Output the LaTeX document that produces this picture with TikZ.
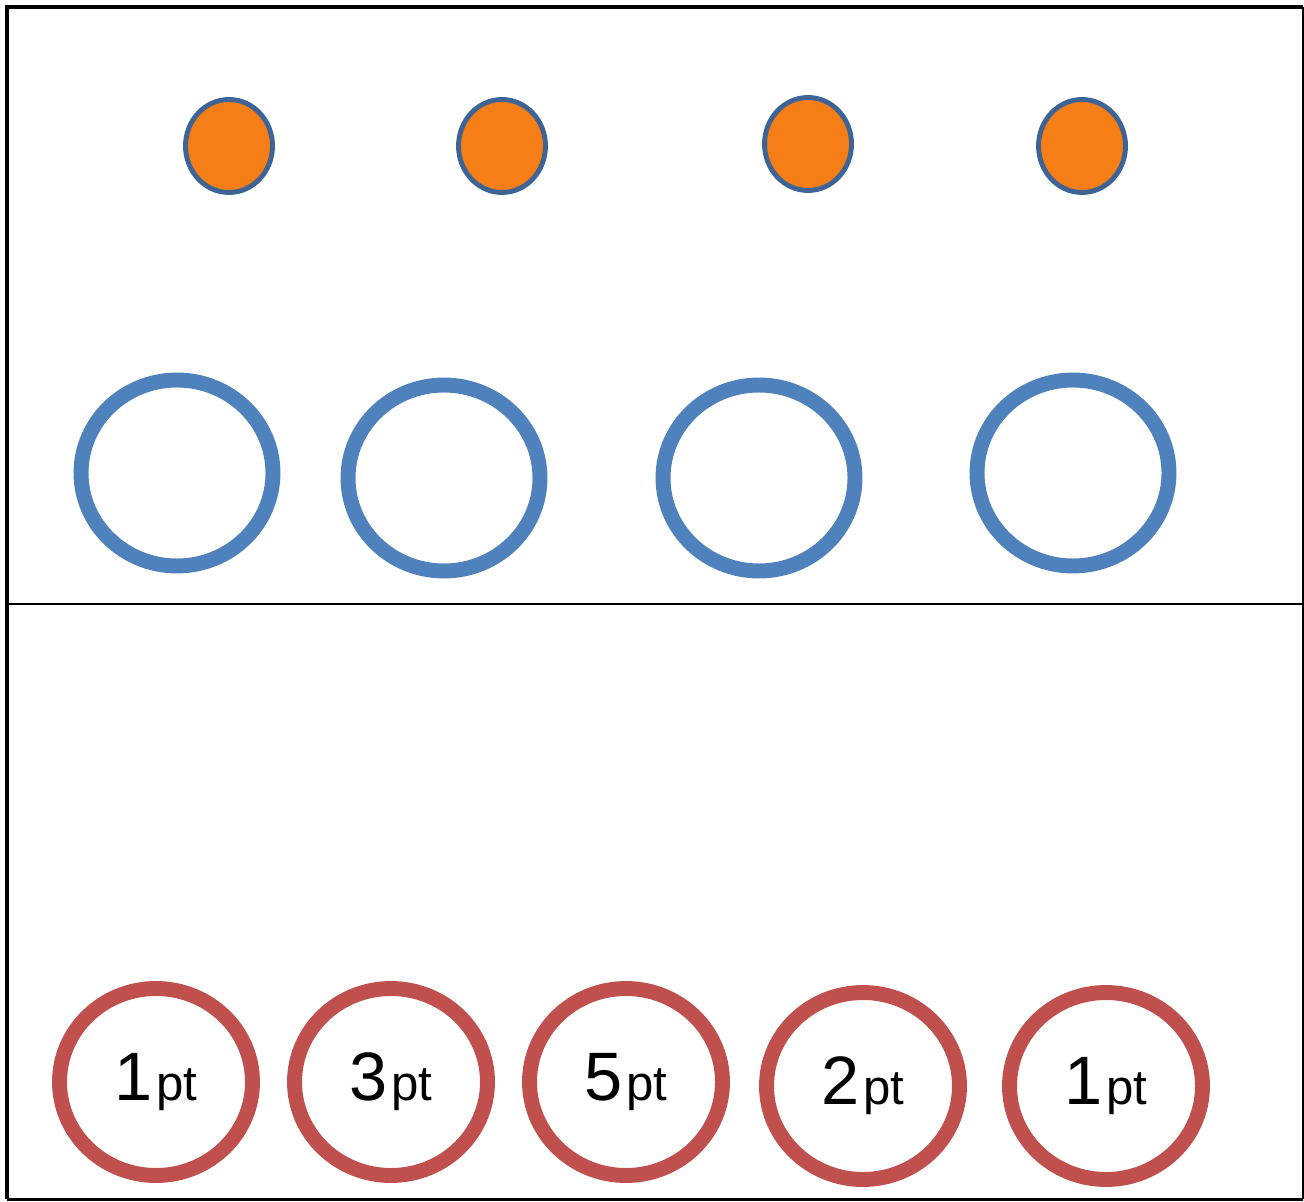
\documentclass[tikz,border=0pt]{standalone}
\usepackage{fontspec}
\setmainfont{Liberation Sans}
\usetikzlibrary{shapes.geometric}
\definecolor{dotfill}{HTML}{F57E17}
\definecolor{dotline}{HTML}{3D6494}
\definecolor{ringblue}{HTML}{4F81BD}
\definecolor{ringred}{HTML}{C0504D}
\tikzset{
  dot/.style={ellipse, draw=dotline, fill=dotfill, line width=2.8pt, minimum width=1.74cm, minimum height=1.86cm, inner sep=0pt},
  bluering/.style={ellipse, draw=ringblue, line width=8.5pt, minimum width=3.84cm, minimum height=3.72cm, inner sep=0pt},
  redring/.style={ellipse, draw=ringred, line width=8.5pt, minimum width=3.86cm, minimum height=3.74cm, inner sep=0pt},
}
\newcommand{\score}[1]{\raisebox{-6pt}{{\fontsize{39}{39}\selectfont #1}\kern2pt{\fontsize{28}{28}\selectfont pt}}}
\begin{document}
\begin{tikzpicture}[x=0.02cm, y=-0.02cm]
  \useasboundingbox (0,0) rectangle (1304,1202);
  \fill[white] (0,0) rectangle (1304,1202);

  % frame
  \coordinate (TL) at (7,7);
  \coordinate (TR) at (1303,7);
  \coordinate (BR) at (1303,1199);
  \coordinate (BL) at (7,1199);
  \coordinate (ML) at (7,604);
  \coordinate (MR) at (1303,604);
  \draw[line width=2.8pt] (BL) -- (TL) -- (TR);
  \draw[line width=1.2pt] (TR) -- (BR);
  \draw[line width=1.7pt] (BR) -- (BL);
  \draw[line width=1.2pt] (ML) -- (MR);

  % upper row
  \node[dot] (d1) at (229,146) {};
  \node[dot] (d2) at (502,146) {};
  \node[dot] (d3) at (808,144) {};
  \node[dot] (d4) at (1082,146) {};

  \node[bluering] (b1) at (177,473) {};
  \node[bluering] (b2) at (444,478) {};
  \node[bluering] (b3) at (759,478) {};
  \node[bluering] (b4) at (1073,473) {};

  % lower row
  \node[redring] (r1) at (156,1082) {\score{1}};
  \node[redring] (r2) at (391,1082) {\score{3}};
  \node[redring] (r3) at (626,1082) {\score{5}};
  \node[redring] (r4) at (863,1086) {\score{2}};
  \node[redring] (r5) at (1106,1086) {\score{1}};
\end{tikzpicture}
\end{document}
